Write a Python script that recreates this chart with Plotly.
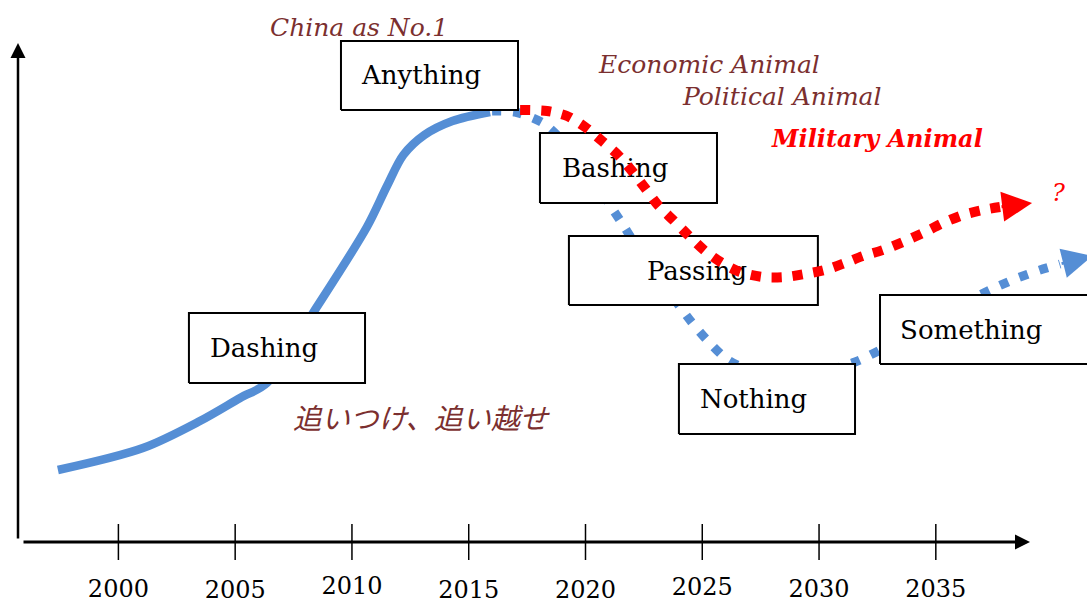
import plotly.graph_objects as go

# ---------------- data (x = year, y = relative level) ----------------
tick_years = [2000, 2005, 2010, 2015, 2020, 2025, 2030, 2035]
tick_labels = ["2000", "2005", "2010", "2015", "2020", "2025", "2030", "2035"]

# solid rise ("Dashing" -> "Anything")
rise_years = [1997.41, 2001.05, 2003.49, 2005.21, 2006.36, 2008.33, 2010.64,
              2011.50, 2012.20, 2013.10, 2014.30, 2015.91]
rise_level = [14.4, 18.8, 24.2, 28.8, 31.8, 45.8, 63.0, 71.2, 77.4, 81.4, 84.2, 86.0]

# blue dotted path (Bashing -> Passing -> Nothing -> Something)
blue_years = [2016.00, 2016.98, 2018.18, 2018.99, 2019.76, 2020.49, 2021.13, 2021.69,
              2022.33, 2023.10, 2023.83, 2024.47, 2025.24, 2026.10, 2027.26, 2028.76,
              2030.25, 2031.54, 2032.61, 2033.89, 2035.18, 2036.25, 2037.32, 2038.39,
              2039.46, 2040.32]
blue_level = [86.2, 86.0, 83.8, 80.4, 76.4, 71.4, 66.8, 62.8, 58.0, 52.8, 48.4, 44.4,
              40.2, 36.4, 34.0, 33.2, 34.2, 36.0, 38.4, 41.8, 45.4, 48.0, 50.4, 52.6,
              54.4, 55.6]
blue_tip = (2041.70, 57.2)

# red dotted path (Military Animal)
red_years = [2017.20, 2018.35, 2019.21, 2019.98, 2020.71, 2021.35, 2021.99, 2022.55,
             2023.10, 2023.75, 2024.39, 2025.12, 2025.85, 2026.62, 2027.60, 2028.54,
             2029.40, 2030.25, 2031.11, 2031.88, 2032.74, 2033.59, 2034.45, 2035.31,
             2036.16, 2037.02, 2037.75]
red_level = [86.4, 86.2, 85.2, 83.0, 80.2, 77.6, 74.2, 70.8, 67.4, 64.4, 61.4, 58.2,
             55.8, 54.0, 53.0, 53.0, 53.6, 54.4, 55.8, 57.2, 58.4, 60.0, 61.8, 63.8,
             65.4, 66.4, 67.0]
red_tip = (2039.12, 67.8)

box_labels = ["Anything", "Bashing", "Passing", "Dashing", "Nothing", "Something"]

# ---------------- layout helpers (positions / styles) ----------------
# box extents: (x0, x1, y0, y1, text_x, text_y)
box_geom = [
    (2009.53, 2017.11, 86.4, 100.2, 2010.43, 93.0),
    (2018.05, 2025.63, 67.8, 81.8, 2018.99, 74.4),
    (2019.29, 2029.95, 47.4, 61.2, 2022.63, 53.8),
    (2003.02, 2010.56, 31.8, 45.8, 2003.92, 38.4),
    (2024.00, 2031.54, 21.6, 35.6, 2024.90, 28.2),
    (2032.61, 2041.60, 35.6, 49.4, 2033.47, 42.0),
]
tick_label_level = [-9.8, -10.0, -9.2, -10.0, -10.0, -9.4, -9.8, -9.8]
tick_half = 3.6

BLUE = "#558ED5"
RED = "#FF0000"
BROWN = "#7B2F2F"
SERIF = "DejaVu Serif"

fig = go.Figure()

# blue solid rise
fig.add_trace(go.Scatter(x=rise_years, y=rise_level, mode="lines",
                         line=dict(color=BLUE, width=8.5, shape="spline", smoothing=0.9),
                         hoverinfo="skip"))
# blue dotted
fig.add_trace(go.Scatter(x=blue_years, y=blue_level, mode="lines",
                         line=dict(color=BLUE, width=9, dash="9px,12px", shape="spline", smoothing=0.8),
                         hoverinfo="skip"))

# boxes (drawn above the blue lines, below the red line)
for (x0, x1, y0, y1, tx_, ty_) in box_geom:
    fig.add_trace(go.Scatter(x=[x0, x1, x1, x0, x0], y=[y0, y0, y1, y1, y0],
                             mode="lines", fill="toself", fillcolor="white",
                             line=dict(color="black", width=2), hoverinfo="skip"))
fig.add_trace(go.Scatter(x=[g[4] for g in box_geom], y=[g[5] for g in box_geom],
                         mode="text", text=box_labels, textposition="middle right",
                         textfont=dict(family=SERIF, size=26, color="black"),
                         hoverinfo="skip"))

# red dotted
fig.add_trace(go.Scatter(x=red_years, y=red_level, mode="lines",
                         line=dict(color=RED, width=10, dash="10px,11px", shape="spline", smoothing=0.8),
                         hoverinfo="skip"))

# tick marks crossing the x axis
tx, ty = [], []
for yr in tick_years:
    tx += [yr, yr, None]
    ty += [tick_half, -tick_half, None]
fig.add_trace(go.Scatter(x=tx, y=ty, mode="lines", line=dict(color="black", width=1.5),
                         hoverinfo="skip"))
# tick labels
fig.add_trace(go.Scatter(x=tick_years, y=tick_label_level, mode="text", text=tick_labels,
                         textposition="middle center",
                         textfont=dict(family=SERIF, size=24, color="black"),
                         hoverinfo="skip", cliponaxis=False))

annotations = []
# axis arrows
annotations.append(dict(xref="paper", yref="paper", x=18 / 1087, y=1 - 43 / 607,
                        ax=0, ay=497, text="", showarrow=True, arrowhead=2,
                        arrowwidth=2.5, arrowsize=1.2, arrowcolor="black"))
annotations.append(dict(xref="paper", yref="paper", x=1030 / 1087, y=1 - 542 / 607,
                        ax=-1008, ay=0, text="", showarrow=True, arrowhead=2,
                        arrowwidth=3, arrowsize=1.0, arrowcolor="black"))
# path arrowheads
annotations.append(dict(xref="x", yref="y", axref="x", ayref="y",
                        x=red_tip[0], y=red_tip[1], ax=red_years[-1], ay=red_level[-1],
                        text="", showarrow=True, arrowhead=2, arrowwidth=3, arrowsize=2,
                        arrowcolor=RED))
annotations.append(dict(xref="x", yref="y", axref="x", ayref="y",
                        x=blue_tip[0], y=blue_tip[1], ax=blue_years[-1], ay=blue_level[-1],
                        text="", showarrow=True, arrowhead=2, arrowwidth=3, arrowsize=2,
                        arrowcolor=BLUE))

# italic captions
captions = [
    ("<i>China as No.1</i>", 2006.41, 103.0, BROWN, 25, SERIF),
    ("<i>Economic Animal</i>", 2020.45, 95.6, BROWN, 25, SERIF),
    ("<i>Political Animal</i>", 2024.05, 89.2, BROWN, 25, SERIF),
    ("<b><i>Military Animal</i></b>", 2027.85, 80.8, RED, 24, SERIF),
    ("<i>?</i>", 2039.89, 69.8, RED, 24, SERIF),
    ("<i>追いつけ、追い越せ</i>", 2007.40, 25.2, BROWN, 28.5, "Noto Sans CJK JP"),
]
for text, x, y, col, size, fam in captions:
    annotations.append(dict(xref="x", yref="y", x=x, y=y, text=text, showarrow=False,
                            xanchor="left", yanchor="middle",
                            font=dict(family=fam, size=size, color=col)))

x_min = 2000 - 118.4 / 23.355
x_max = 2000 + (1087 - 118.4) / 23.355
fig.update_layout(
    width=1087, height=607,
    margin=dict(l=0, r=0, t=0, b=0),
    paper_bgcolor="white", plot_bgcolor="white",
    showlegend=False,
    xaxis=dict(range=[x_min, x_max], visible=False, showgrid=False, zeroline=False),
    yaxis=dict(range=[-13.0, 108.4], visible=False, showgrid=False, zeroline=False),
    annotations=annotations,
)

fig.write_html("out.html", config={"displayModeBar": False},
               post_script="document.body.style.margin='0px';document.body.style.overflow='hidden';")
